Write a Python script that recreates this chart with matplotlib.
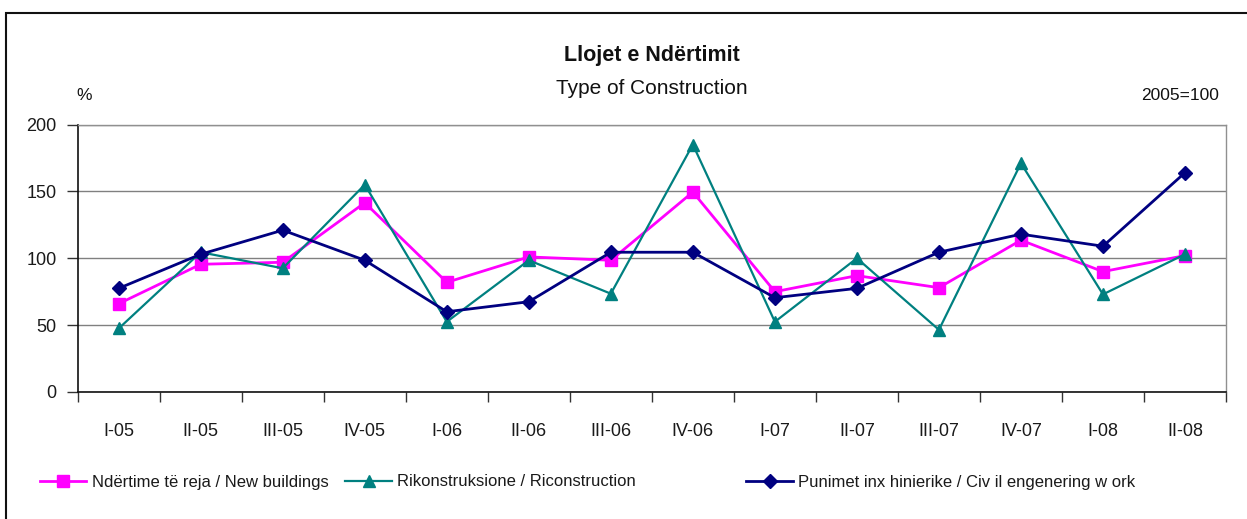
import matplotlib
matplotlib.use("Agg")
import matplotlib.pyplot as plt
from matplotlib.patches import Rectangle
from matplotlib.lines import Line2D

categories = ["I-05", "II-05", "III-05", "IV-05", "I-06", "II-06", "III-06",
              "IV-06", "I-07", "II-07", "III-07", "IV-07", "I-08", "II-08"]
new_buildings = [66, 95.5, 97, 141.5, 82, 101, 98.5, 149.5, 75, 87, 78, 113.5, 90, 102]
reconstruction = [47.5, 104.5, 92.5, 155, 52.5, 98.5, 73.5, 185, 52.5, 100, 46.5, 171, 73, 103]
civil_works = [77.5, 103, 121, 98.5, 60, 67.5, 104.5, 104.5, 70.5, 77.5, 104.5, 118, 109, 164]
y_ticks = [0, 50, 100, 150, 200]

labels = ["Ndërtime të reja / New buildings",
          "Rikonstruksione / Riconstruction",
          "Punimet inx hinierike / Civ il engenering w ork"]

plt.rcParams['font.family'] = ['Liberation Sans', 'DejaVu Sans']

W, H = 1247, 519
fig = plt.figure(figsize=(W / 100, H / 100), dpi=100)
fig.patch.set_facecolor("white")

ax = fig.add_axes([77.7 / W, 1 - 392 / H, (1226 - 77.7) / W, (392 - 124.5) / H])

styles = [
    dict(color="#FF00FF", lw=2, marker="s", ms=8.3, mec="#FF00FF", mfc="#FF00FF"),
    dict(color="#008080", lw=1.6, marker="^", ms=9, mec="#008080", mfc="#008080"),
    dict(color="#000080", lw=2, marker="D", ms=7.3, mec="#000080", mfc="#000080"),
]

x = list(range(len(categories)))
ax.plot(x, new_buildings, zorder=3, **styles[0])
ax.plot(x, reconstruction, zorder=4, **styles[1])
ax.plot(x, civil_works, zorder=5, **styles[2])

ax.set_xlim(-0.5, len(categories) - 0.5)
ax.set_ylim(0, 200)
ax.set_yticks(y_ticks)
ax.set_yticklabels([str(v) for v in y_ticks], fontsize=13, color="#1a1a1a")
ax.set_xticks(x)
ax.set_xticklabels(categories, fontsize=13, color="#1a1a1a")
ax.set_xticks([i - 0.5 for i in range(len(categories) + 1)], minor=True)
ax.tick_params(axis="x", which="major", length=0, pad=22)
ax.tick_params(axis="x", which="minor", length=7, width=1, color="#333333", direction="out")
ax.tick_params(axis="y", length=8, width=1, color="#333333", direction="out", pad=7)

ax.grid(axis="y", color="#808080", lw=1, zorder=0)
ax.set_axisbelow(True)
for s in ["top", "right"]:
    ax.spines[s].set_color("#909090")
    ax.spines[s].set_linewidth(1)
for s in ["left", "bottom"]:
    ax.spines[s].set_color("#111111")
    ax.spines[s].set_linewidth(1.2)

fig.text(652 / W, 1 - 55 / H, "Llojet e Ndërtimit", ha="center", va="center",
         fontsize=15.5, fontweight="bold", color="#111111")
fig.text(652 / W, 1 - 89 / H, "Type of Construction", ha="center", va="center",
         fontsize=15, color="#111111")
fig.text(76 / W, 1 - 96 / H, "%", ha="left", va="center", fontsize=12.5, color="#111111")
fig.text(1219 / W, 1 - 96 / H, "2005=100", ha="right", va="center", fontsize=12.5, color="#111111")

# legend (manual placement in figure pixels)
leg_y = 1 - 481 / H
leg_base = 1 - 486.5 / H
leg_items = [(40, 86, 92), (345, 392, 397), (746, 793, 798)]
for (x0, x1, xt), st, lab in zip(leg_items, styles, labels):
    fig.add_artist(Line2D([x0 / W, x1 / W], [leg_y, leg_y], transform=fig.transFigure,
                          color=st["color"], lw=st["lw"]))
    fig.add_artist(Line2D([(x0 + x1) / 2 / W], [leg_y], transform=fig.transFigure,
                          ls="none", marker=st["marker"], ms=st["ms"],
                          mfc=st["mfc"], mec=st["mec"]))
    fig.text(xt / W, leg_base, lab, ha="left", va="baseline", fontsize=12, color="#1a1a1a")

fig.patches.append(Rectangle((6 / W, -0.1), 1.2, 1.1 - 13 / H,
                             transform=fig.transFigure, fill=False,
                             edgecolor="#111111", lw=1.5, zorder=10))

fig.savefig("out.png", dpi=100, facecolor="white")
